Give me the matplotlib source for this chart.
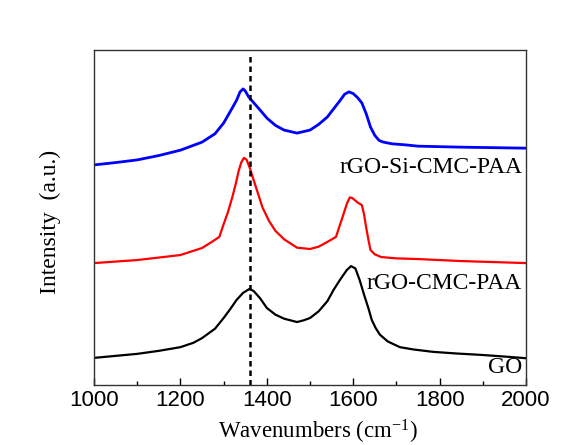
import matplotlib
matplotlib.use("Agg")
import matplotlib.pyplot as plt

# Wavenumber samples (cm^-1) and intensities (a.u., offset stacked)
go_x = [1000, 1050, 1100, 1150, 1200, 1230, 1250, 1280, 1300, 1315, 1330, 1345, 1360, 1370, 1385, 1400, 1420, 1440, 1455, 1470, 1485, 1500, 1520, 1540, 1555, 1570, 1585, 1595, 1605, 1615, 1625, 1635, 1643, 1652, 1662, 1680, 1708, 1740, 1785, 1840, 1895, 1950, 2000]
go_y = [8.1, 8.7, 9.3, 10.2, 11.3, 12.6, 14.0, 16.8, 20.0, 22.6, 25.4, 27.5, 28.7, 28.0, 25.8, 23.0, 21.0, 19.8, 19.3, 18.8, 19.3, 20.0, 22.0, 25.0, 28.5, 31.5, 34.3, 35.5, 34.8, 31.3, 27.0, 23.0, 19.4, 17.0, 15.0, 13.0, 11.3, 10.6, 9.9, 9.4, 9.0, 8.5, 8.0]

rgo_x = [1000, 1100, 1200, 1250, 1270, 1290, 1300, 1310, 1320, 1328, 1335, 1341, 1347, 1353, 1360, 1370, 1380, 1390, 1405, 1420, 1440, 1470, 1500, 1520, 1540, 1560, 1575, 1585, 1592, 1598, 1610, 1620, 1625, 1630, 1635, 1640, 1650, 1665, 1700, 1750, 1850, 2000]
rgo_y = [36.4, 37.3, 38.8, 40.9, 42.5, 44.2, 48.0, 51.6, 56.0, 60.0, 64.0, 66.5, 67.8, 67.3, 65.0, 61.0, 57.0, 53.0, 49.0, 46.0, 43.5, 41.0, 40.6, 41.3, 42.7, 44.2, 50.0, 54.0, 56.0, 55.8, 54.5, 53.7, 51.0, 47.0, 43.5, 40.3, 39.0, 38.2, 37.8, 37.6, 37.0, 36.4]

si_x = [1000, 1050, 1100, 1150, 1200, 1250, 1280, 1300, 1320, 1330, 1338, 1345, 1350, 1358, 1370, 1385, 1400, 1420, 1440, 1470, 1500, 1520, 1540, 1555, 1570, 1580, 1590, 1600, 1610, 1620, 1630, 1640, 1650, 1660, 1670, 1690, 1720, 1750, 1850, 2000]
si_y = [65.7, 66.4, 67.2, 68.5, 70.1, 72.5, 75.0, 78.2, 82.7, 85.0, 87.5, 88.4, 87.8, 86.0, 84.2, 82.0, 79.7, 77.5, 76.1, 75.2, 76.1, 77.8, 80.0, 82.5, 85.0, 86.8, 87.5, 87.0, 85.8, 84.2, 81.0, 77.0, 74.5, 73.0, 72.5, 72.0, 71.7, 71.3, 71.0, 70.7]

labels = ["rGO-Si-CMC-PAA", "rGO-CMC-PAA", "GO"]
label_y = [65.0, 30.4, 5.1]
colors = ["#0000ff", "#ff0000", "#000000"]
ref_line = 1360
xticks = [1000, 1200, 1400, 1600, 1800, 2000]

plt.rcParams['mathtext.fontset'] = 'custom'
plt.rcParams['mathtext.rm'] = 'Liberation Serif'
plt.rcParams['mathtext.it'] = 'Liberation Serif:italic'

fig = plt.figure(figsize=(5.74, 4.45), dpi=100)
ax = fig.add_axes([0.1638, 0.1348, 0.7526, 0.7528])

ax.plot(si_x, si_y, color=colors[0], lw=2.0)
ax.plot(rgo_x, rgo_y, color=colors[1], lw=1.6)
ax.plot(go_x, go_y, color=colors[2], lw=1.6)
ax.axvline(ref_line, ymin=0, ymax=0.985, color='black', lw=1.8, ls=(0, (2.2, 1.6)))

for lab, yy in zip(labels, label_y):
    ax.text(1991, yy, lab, ha='right', va='center', family='Liberation Serif', fontsize=17)

ax.set_xlim(1000, 2000)
ax.set_ylim(0, 100)
ax.set_xticks(xticks)
ax.set_xticks(range(1100, 2000, 200), minor=True)
ax.set_yticks([])
ax.tick_params(axis='x', which='both', direction='in', top=False, labelsize=16)
ax.tick_params(axis='x', which='major', length=5, width=1)
ax.tick_params(axis='x', which='minor', length=3, width=1)
for lbl in ax.get_xticklabels():
    lbl.set_family('Liberation Sans')
for s in ax.spines.values():
    s.set_linewidth(1.0)
    s.set_color('#333333')

ax.set_xlabel('Wavenumbers (cm$^{\\mathregular{-1}}$)', family='Liberation Serif', fontsize=16.5, va='center')
ax.xaxis.set_label_coords(0.519, -0.140)
ax.set_ylabel('Intensity  (a.u.)', family='Liberation Serif', fontsize=17, va='center')
ax.yaxis.set_label_coords(-0.102, 0.487)

fig.savefig('out.png', dpi=100)
